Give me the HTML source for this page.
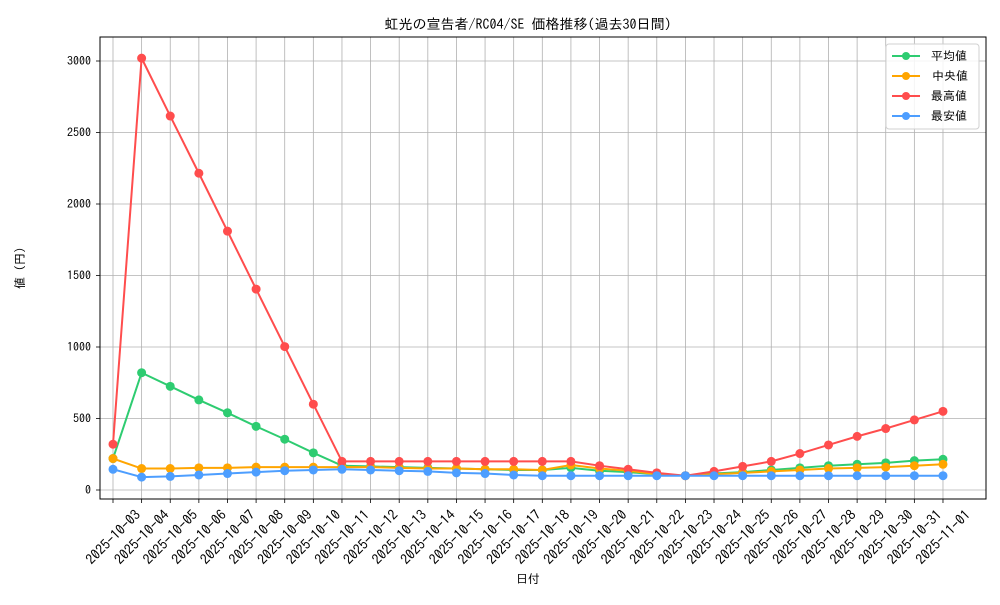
<!DOCTYPE html>
<html><head><meta charset="utf-8"><style>
body{margin:0;background:#fff}
svg text{font-family:"IPAGothic","Noto Sans CJK JP",sans-serif;fill:#000}
</style></head><body>
<svg id="s" width="1000" height="600" xmlns="http://www.w3.org/2000/svg">
<rect width="1000" height="600" fill="#fff"/>
<g id="grid" stroke="#b0b0b0" stroke-width="0.8"></g>
<g id="lines"></g>
<rect x="100" y="37" width="886" height="462" fill="none" stroke="#000" stroke-width="1"/>
<g font-size="12" text-anchor="end">
<text x="91" y="494">0</text>
<text x="91" y="422.5">500</text>
<text x="91" y="351">1000</text>
<text x="91" y="279.5">1500</text>
<text x="91" y="208">2000</text>
<text x="91" y="136.5">2500</text>
<text x="91" y="65">3000</text>
</g>
<g id="xl" font-size="14" text-anchor="middle">
<text transform="translate(113,537) rotate(-45)" y="5">2025-10-03</text>
<text transform="translate(141.6,537) rotate(-45)" y="5">2025-10-04</text>
<text transform="translate(170.2,537) rotate(-45)" y="5">2025-10-05</text>
<text transform="translate(198.9,537) rotate(-45)" y="5">2025-10-06</text>
<text transform="translate(227.5,537) rotate(-45)" y="5">2025-10-07</text>
<text transform="translate(256.1,537) rotate(-45)" y="5">2025-10-08</text>
<text transform="translate(284.7,537) rotate(-45)" y="5">2025-10-09</text>
<text transform="translate(313.3,537) rotate(-45)" y="5">2025-10-10</text>
<text transform="translate(342,537) rotate(-45)" y="5">2025-10-11</text>
<text transform="translate(370.6,537) rotate(-45)" y="5">2025-10-12</text>
<text transform="translate(399.2,537) rotate(-45)" y="5">2025-10-13</text>
<text transform="translate(427.8,537) rotate(-45)" y="5">2025-10-14</text>
<text transform="translate(456.4,537) rotate(-45)" y="5">2025-10-15</text>
<text transform="translate(485.1,537) rotate(-45)" y="5">2025-10-16</text>
<text transform="translate(513.7,537) rotate(-45)" y="5">2025-10-17</text>
<text transform="translate(542.3,537) rotate(-45)" y="5">2025-10-18</text>
<text transform="translate(570.9,537) rotate(-45)" y="5">2025-10-19</text>
<text transform="translate(599.5,537) rotate(-45)" y="5">2025-10-20</text>
<text transform="translate(628.2,537) rotate(-45)" y="5">2025-10-21</text>
<text transform="translate(656.8,537) rotate(-45)" y="5">2025-10-22</text>
<text transform="translate(685.4,537) rotate(-45)" y="5">2025-10-23</text>
<text transform="translate(714,537) rotate(-45)" y="5">2025-10-24</text>
<text transform="translate(742.6,537) rotate(-45)" y="5">2025-10-25</text>
<text transform="translate(771.3,537) rotate(-45)" y="5">2025-10-26</text>
<text transform="translate(799.9,537) rotate(-45)" y="5">2025-10-27</text>
<text transform="translate(828.5,537) rotate(-45)" y="5">2025-10-28</text>
<text transform="translate(857.1,537) rotate(-45)" y="5">2025-10-29</text>
<text transform="translate(885.7,537) rotate(-45)" y="5">2025-10-30</text>
<text transform="translate(914.4,537) rotate(-45)" y="5">2025-10-31</text>
<text transform="translate(943,537) rotate(-45)" y="5">2025-11-01</text>
</g>
<text x="528" y="583" font-size="12" text-anchor="middle">日付</text>
<text transform="translate(24,268) rotate(-90)" font-size="12" text-anchor="middle">値 (円)</text>
<text x="528" y="29" font-size="14" text-anchor="middle">虹光の宣告者/RC04/SE 価格推移(過去30日間)</text>
<g>
<rect x="886" y="44" width="93" height="85" rx="3" fill="#fff" fill-opacity="0.85" stroke="#d0d0d0"/>
<line x1="892" y1="56" x2="920" y2="56" stroke="#2ecc71" stroke-width="2"/><circle cx="906" cy="56" r="4" fill="#2ecc71"/>
<line x1="892" y1="76" x2="920" y2="76" stroke="#ffa500" stroke-width="2"/><circle cx="906" cy="76" r="4" fill="#ffa500"/>
<line x1="892" y1="96" x2="920" y2="96" stroke="#ff4d4d" stroke-width="2"/><circle cx="906" cy="96" r="4" fill="#ff4d4d"/>
<line x1="892" y1="116" x2="920" y2="116" stroke="#4d9eff" stroke-width="2"/><circle cx="906" cy="116" r="4" fill="#4d9eff"/>
<g font-size="12"><text x="931" y="60">平均値</text><text x="932" y="80">中央値</text><text x="931" y="100">最高値</text><text x="931" y="120">最安値</text></g>
</g>
</svg>
<script>
var X=i=>113+28.62*i, Y=v=>490-v*0.143, ns="http://www.w3.org/2000/svg";
var g=document.getElementById('grid');
function ln(a,b,c,d,col){var l=document.createElementNS(ns,'line');l.setAttribute('x1',a);l.setAttribute('y1',b);l.setAttribute('x2',c);l.setAttribute('y2',d);if(col)l.setAttribute('stroke',col);g.appendChild(l);}
for(var i=0;i<30;i++){ln(X(i),37,X(i),499);ln(X(i),499,X(i),503,'#000');}
for(var v=0;v<=3000;v+=500){ln(100,Y(v),986,Y(v));ln(96,Y(v),100,Y(v),'#000');}
var S=[
["#2ecc71",[220,820,725,630,540,445,355,260,170,165,160,155,150,145,140,140,155,135,125,110,100,115,125,140,155,170,180,190,205,215]],
["#ffa500",[220,150,150,155,155,160,160,160,160,160,155,150,150,145,145,140,175,150,135,110,100,110,120,130,140,150,155,160,170,180]],
["#ff4d4d",[320,3020,2615,2215,1810,1405,1003,600,200,200,200,200,200,200,200,200,200,170,145,120,100,130,165,200,255,315,375,430,490,550]],
["#4d9eff",[145,90,95,105,115,125,135,140,145,140,135,130,120,115,105,100,100,100,100,100,100,100,100,100,100,100,100,100,100,100]]];
var L=document.getElementById('lines');
S.forEach(s=>{var p=document.createElementNS(ns,'polyline');p.setAttribute('points',s[1].map((v,i)=>X(i)+','+Y(v)).join(' '));p.setAttribute('fill','none');p.setAttribute('stroke',s[0]);p.setAttribute('stroke-width',2);L.appendChild(p);
s[1].forEach((v,i)=>{var c=document.createElementNS(ns,'circle');c.setAttribute('cx',X(i));c.setAttribute('cy',Y(v));c.setAttribute('r',4.5);c.setAttribute('fill',s[0]);L.appendChild(c);});});
</script>
</body></html>
